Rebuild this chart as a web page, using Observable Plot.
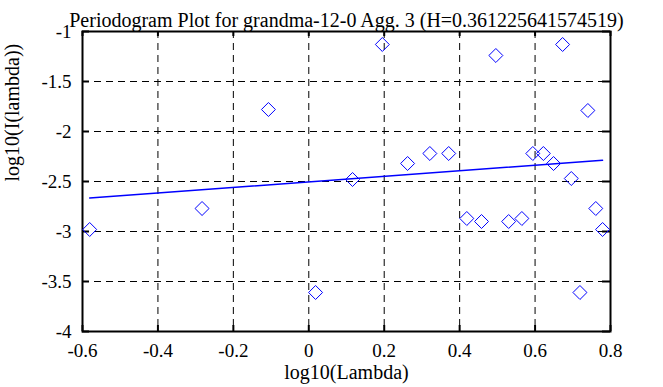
<!DOCTYPE html>
<html>
<head>
<meta charset="utf-8">
<script src="https://cdn.jsdelivr.net/npm/d3@7"></script>
<script src="https://cdn.jsdelivr.net/npm/@observablehq/plot@0.6"></script>
<style>
  html, body { margin: 0; padding: 0; background: white; }
  svg text { font-family: "Liberation Serif", "Times New Roman", serif !important; }
</style>
</head>
<body>
<div id="chart"></div>
<script>
const titleText = "Periodogram Plot for grandma-12-0 Agg. 3 (H=0.361225641574519)";
const xLabel = "log10(Lambda)";
const yLabel = "log10(I(lambda))";

const xTicks = [-0.6, -0.4, -0.2, 0, 0.2, 0.4, 0.6, 0.8];
const xTickLabels = ["-0.6", "-0.4", "-0.2", "0", "0.2", "0.4", "0.6", "0.8"];
const yTicks = [-4, -3.5, -3, -2.5, -2, -1.5, -1];
const yTickLabels = ["-4", "-3.5", "-3", "-2.5", "-2", "-1.5", "-1"];

// periodogram points: log10(lambda), log10(I(lambda))
const pointX = [-0.581, -0.283, -0.107, 0.018, 0.116, 0.195, 0.262, 0.321, 0.371,
                0.419, 0.458, 0.496, 0.530, 0.565, 0.594, 0.622, 0.649, 0.673,
                0.696, 0.719, 0.740, 0.761, 0.779];
const pointY = [-2.98, -2.77, -1.78, -3.61, -2.48, -1.13, -2.32, -2.22, -2.22,
                -2.87, -2.90, -1.24, -2.90, -2.87, -2.22, -2.22, -2.32, -1.13,
                -2.47, -3.61, -1.79, -2.77, -2.98];

// least-squares fit line endpoints
const fitX = [-0.581, 0.779];
const fitY = [-2.665, -2.288];

const points = pointX.map((x, i) => ({x, y: pointY[i]}));
const fit = fitX.map((x, i) => ({x, y: fitY[i]}));

const W = 663, H = 387;
const mL = 82, mR = 53, mT = 31, mB = 56;
const plotH = H - mT - mB, plotW = W - mL - mR;
const font = "Liberation Serif";
const fs = 19;

const chart = Plot.plot({
  width: W,
  height: H,
  marginLeft: mL,
  marginRight: mR,
  marginTop: mT,
  marginBottom: mB,
  style: {fontFamily: font, fontSize: fs + "px", background: "white", color: "black"},
  x: {domain: [-0.6, 0.8], label: null},
  y: {domain: [-4, -1], label: null},
  marks: [
    Plot.gridX(xTicks, {stroke: "black", strokeOpacity: 1, strokeWidth: 1, strokeDasharray: "7,5"}),
    Plot.gridY(yTicks, {stroke: "black", strokeOpacity: 1, strokeWidth: 1, strokeDasharray: "7,5"}),
    Plot.ruleX(xTicks, {x: d => d, insetTop: plotH - 6, stroke: "black", strokeWidth: 2}),
    Plot.ruleX(xTicks, {x: d => d, insetBottom: plotH - 5, stroke: "black", strokeWidth: 2}),
    Plot.ruleY(yTicks, {y: d => d, insetRight: plotW - 7, stroke: "black", strokeWidth: 2}),
    Plot.ruleY(yTicks, {y: d => d, insetLeft: plotW - 8, stroke: "black", strokeWidth: 2}),
    Plot.frame({stroke: "black", strokeWidth: 2}),
    Plot.line(fit, {x: "x", y: "y", stroke: "#0000ff", strokeWidth: 1.5}),
    Plot.dot(points, {x: "x", y: "y", symbol: "diamond2", r: 6.3, stroke: "#0000ff", strokeWidth: 1, fill: "none"}),
    Plot.axisX(xTicks, {tickSize: 0, tickPadding: 12, fontSize: fs,
      tickFormat: d => xTickLabels[xTicks.indexOf(d)], label: null}),
    Plot.axisY(yTicks, {tickSize: 0, tickPadding: 11, fontSize: fs,
      tickFormat: d => yTickLabels[yTicks.indexOf(d)], label: null}),
    Plot.text([titleText], {frameAnchor: "top", dy: -19, fontSize: 20, fill: "black"}),
    Plot.text([xLabel], {frameAnchor: "bottom", dy: 47, fontSize: 20, fill: "black"}),
    Plot.text([yLabel], {frameAnchor: "left", dx: -70, rotate: -90, fontSize: 20, fill: "black"})
  ]
});
document.getElementById("chart").appendChild(chart);
</script>
</body>
</html>
